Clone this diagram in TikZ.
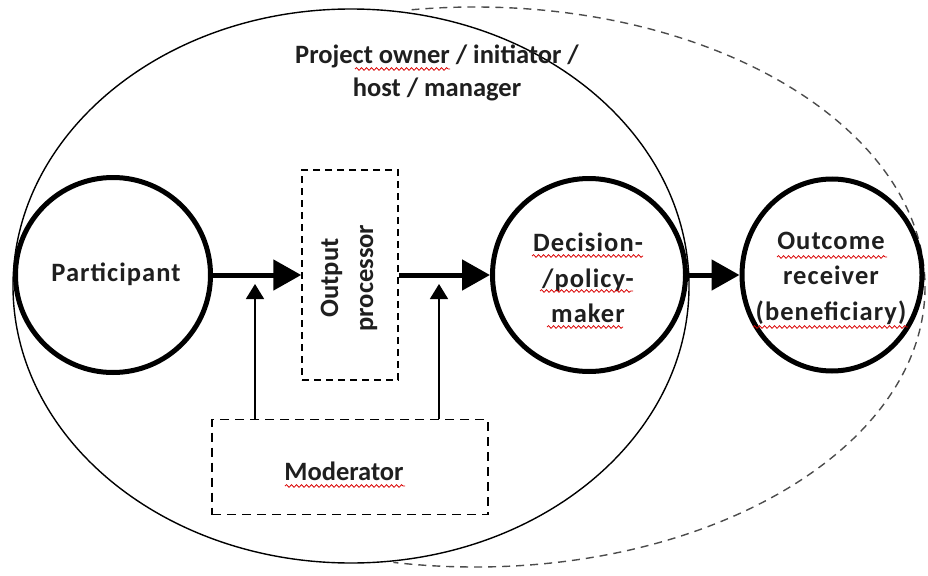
\documentclass[tikz,border=0pt]{standalone}
\usepackage{fontspec}
\setmainfont{Carlito}
\newfontfamily\widefont{Carlito}[LetterSpace=4]
\usetikzlibrary{arrows.meta,shapes.geometric,decorations.pathmorphing}

\begin{document}
\begin{tikzpicture}[x=1pt,y=-1pt,
  every node/.style={font=\bfseries\fontsize{26.5}{35}\selectfont, text=black!88},
  actorlabel/.style={align=center, font=\widefont\bfseries\fontsize{26.5}{35.5}\selectfont},
  actor/.style={draw, line width=5pt, circle, inner sep=0pt},
  actoroval/.style={draw, line width=5pt, ellipse, inner sep=0pt},
  dashbox/.style={draw, line width=1.5pt, dash pattern=on 7pt off 5pt, inner sep=0pt},
  bigarrow/.style={line width=5pt, -{Triangle[length=28pt,width=30pt]}},
  smallarrow/.style={line width=1.6pt, -{Triangle[length=15pt,width=18pt]}},
  spell/.style={draw=red!85!black, line width=0.8pt, decorate,
    decoration={snake, amplitude=1.3pt, segment length=5pt}}
]
\useasboundingbox (0,0) rectangle (928,575);

% scope of the project: owner's domain and the wider reach to the beneficiary
\draw[line width=1.4pt] (351,286) ellipse [x radius=338, y radius=277];
\begin{scope}
  \clip (412,0) -- (928,0) -- (928,575) -- (393,575) -- cycle;
  \draw[line width=1.4pt, black!70, dash pattern=on 8pt off 6pt]
    (475,287) ellipse [x radius=450, y radius=280];
\end{scope}

\node[align=center, font=\bfseries\fontsize{26.5}{33}\selectfont] (owner) at (437,73)
  {Project owner / initiator /\\host / manager};

% actors
\node[actor, minimum size=195pt] (part) at (113,275) {};
\node[actorlabel] (parttext) at (116,274) {Participant};
\node[actor, minimum size=193pt] (dec) at (589,275) {};
\node[actorlabel] (dectext) at (588,278) {Decision-\\/policy-\\maker};
\node[actoroval, minimum width=180pt, minimum height=192pt] (out) at (832,275) {};
\node[actorlabel] (outtext) at (831,278) {Outcome\\receiver\\(beneficiary)};

% intermediaries
\node[dashbox, minimum width=96pt, minimum height=210pt] (proc) at (350,275) {};
\node[rotate=90, align=center] (proctext) at (349,278) {Output\\processor};
\node[dashbox, dash pattern=on 9pt off 6pt, minimum width=276pt, minimum height=95pt] (mod) at (350,467) {};
\node (modtext) at (344,471) {Moderator};

% main flow
\draw[bigarrow] (part.east) -- (part.east -| proc.west);
\draw[bigarrow] (proc.east |- dec.west) -- (dec.west);
\draw[bigarrow] (dec.east) -- (out.west);

% moderator influence
\coordinate (j1) at (255,284);
\coordinate (j2) at (439,284);
\draw[smallarrow] (mod.north -| j1) -- (j1);
\draw[smallarrow] (mod.north -| j2) -- (j2);

% spelling marks
\draw[spell] (355,69) -- (450,69);
\draw[spell] (532,256) -- (643,256);
\draw[spell] (540,291) -- (633,291);
\draw[spell] (547,327) -- (623,327);
\draw[spell] (777,257) -- (887,257);
\draw[spell] (753,327) -- (908,327);
\draw[spell] (285,486) -- (405,486);
\end{tikzpicture}
\end{document}
